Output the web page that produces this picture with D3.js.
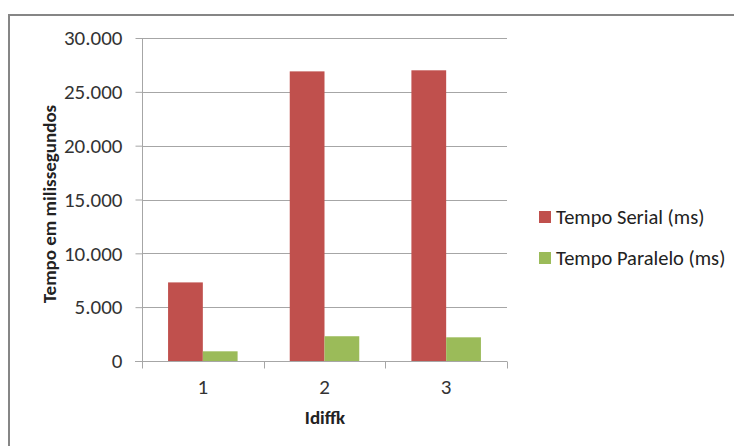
<!DOCTYPE html>
<html><head><meta charset="utf-8">
<script src="https://cdn.jsdelivr.net/npm/d3@7/dist/d3.min.js"></script>
<style>body{margin:0;background:#fff}svg{display:block}</style>
</head><body><svg id="c" width="734" height="446"></svg>
<script>
const categories = ["1", "2", "3"];
const seriesNames = ["Tempo Serial (ms)", "Tempo Paralelo (ms)"];
const serial = [7300, 26900, 27000];
const paralelo = [900, 2300, 2200];
const yTicks = [0, 5000, 10000, 15000, 20000, 25000, 30000];
const colors = ["#c0504d", "#9bbb59"];

(function () {
const svg = d3.select("#c");
const font = "Carlito, Calibri, 'Open Sans', sans-serif";
const pL = 142, pR = 507, pT = 38, pB = 361;

// outer frame
svg.append("path").attr("d", "M9,446 V15 H734").attr("fill", "none")
  .attr("stroke", "#868686").attr("stroke-width", 2);

const y = d3.scaleLinear().domain([0, 30000]).range([pB, pT]);
const x0 = d3.scaleBand().domain(categories).range([pL, pR]).paddingInner(0).paddingOuter(0);
const x1 = d3.scaleBand().domain(seriesNames).range([0, x0.bandwidth()]).paddingInner(0).paddingOuter(0.75);

// gridlines
svg.append("g").selectAll("line").data(yTicks.filter(d => d > 0)).join("line")
  .attr("x1", pL).attr("x2", pR).attr("y1", d => Math.round(y(d)) + 0.5).attr("y2", d => Math.round(y(d)) + 0.5)
  .attr("stroke", "#a6a6a6").attr("stroke-width", 1);

// bars
const data = categories.map((c, i) => ({c, vals: [serial[i], paralelo[i]]}));
svg.append("g").selectAll("g").data(data).join("g")
  .attr("transform", d => `translate(${x0(d.c)},0)`)
  .selectAll("rect").data(d => d.vals.map((v, j) => ({v, j}))).join("rect")
  .attr("x", d => x1(seriesNames[d.j])).attr("width", x1.bandwidth())
  .attr("y", d => y(d.v)).attr("height", d => y(0) - y(d.v))
  .attr("fill", d => colors[d.j]);

// y axis
const yAxis = d3.axisLeft(y).tickValues(yTicks).tickSize(7).tickPadding(13)
  .tickFormat(d => d3.format(",")(d).replace(/,/g, "."));
const ga = svg.append("g").attr("transform", `translate(${pL + 0.5},0)`).call(yAxis);
ga.select(".domain").attr("stroke", "#a6a6a6").attr("d", `M0,${pT}V${pB}`);
ga.selectAll(".tick line").attr("stroke", "#a6a6a6");
ga.selectAll("text").attr("font-family", font).attr("font-size", 21).attr("fill", "#333");

// x axis
const gx = svg.append("g").attr("transform", `translate(0,${pB + 0.5})`);
gx.append("line").attr("x1", pL - 7).attr("x2", pR).attr("stroke", "#a6a6a6");
const edges = [pL, ...categories.map(c => x0(c) + x0.bandwidth())];
gx.selectAll(".t").data(edges).join("line").attr("class", "t")
  .attr("x1", d => Math.round(d) + 0.5).attr("x2", d => Math.round(d) + 0.5).attr("y1", 0).attr("y2", 7)
  .attr("stroke", "#a6a6a6");
gx.selectAll("text").data(categories).join("text")
  .attr("x", d => x0(d) + x0.bandwidth() / 2).attr("y", 32)
  .attr("text-anchor", "middle").attr("font-family", font).attr("font-size", 21).attr("fill", "#333")
  .text(d => d);

// axis titles
svg.append("text").attr("x", 325).attr("y", 424).attr("text-anchor", "middle")
  .attr("font-family", font).attr("font-size", 19).attr("font-weight", "bold").attr("fill", "#222").text("Idiffk");
svg.append("text").attr("transform", "translate(56,204) rotate(-90)").attr("text-anchor", "middle")
  .attr("font-family", font).attr("font-size", 19).attr("font-weight", "bold").attr("fill", "#222")
  .text("Tempo em milissegundos");

// legend
const lg = svg.append("g").selectAll("g").data(seriesNames).join("g")
  .attr("transform", (d, i) => `translate(539,${211 + i * 41})`);
lg.append("rect").attr("width", 12).attr("height", 12).attr("fill", (d, i) => colors[i]);
lg.append("text").attr("x", 17).attr("y", 13).attr("font-family", font).attr("font-size", 20.5)
  .attr("fill", "#222").text(d => d);
})();
</script></body></html>
